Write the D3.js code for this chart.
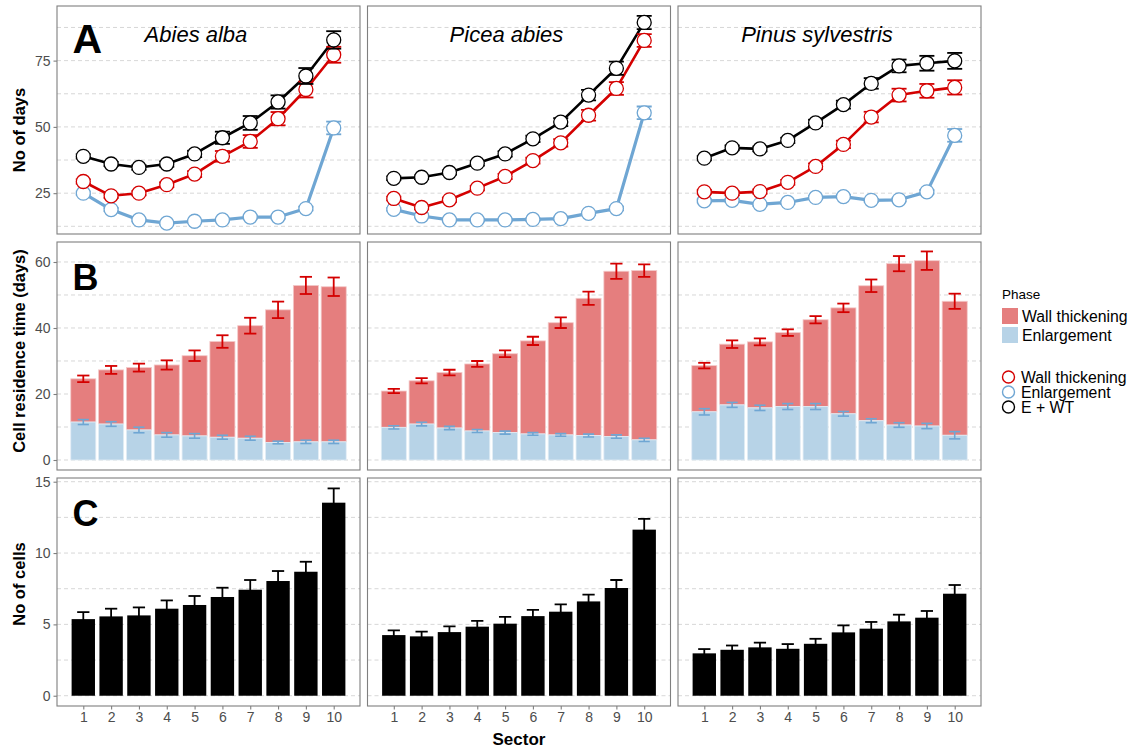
<!DOCTYPE html>
<html><head><meta charset="utf-8">
<script src="https://cdn.jsdelivr.net/npm/d3@7"></script>
<style>
html,body{margin:0;padding:0;background:#fff;}
text{font-family:"Liberation Sans",Arial,Helvetica,sans-serif;}
</style></head>
<body>
<svg id="chart" width="1136" height="751"></svg>
<script>
// ---------- data ----------
const sectors = [1,2,3,4,5,6,7,8,9,10];
const species = ["Abies alba","Picea abies","Pinus sylvestris"];
const panelLetters = ["A","B","C"];

// Panel A: number of days
const daysEWT = [
  [38.9,36.0,34.7,36.0,39.8,45.9,51.5,59.4,69.2,82.8],
  [30.6,31.0,32.8,36.3,39.8,45.5,51.8,62.0,72.1,89.4],
  [38.2,42.1,41.7,44.9,51.5,58.4,66.4,73.0,74.0,74.9]];
const daysEWTErr = [
  [0.8,0.8,0.9,1.0,1.2,2.3,2.6,2.5,3.0,3.3],
  [0.7,0.7,0.8,0.9,1.0,1.2,1.5,2.0,2.5,2.5],
  [0.8,0.9,0.9,1.0,1.2,1.5,2.0,2.4,2.8,3.0]];
const daysWT = [
  [29.4,24.0,25.0,28.2,32.2,38.9,44.5,53.1,64.1,77.2],
  [23.0,19.6,22.5,26.9,31.3,37.3,44.0,54.4,64.5,82.6],
  [25.5,25.0,25.6,29.1,35.1,43.4,53.7,62.0,63.6,64.9]];
const daysWTErr = [
  [0.8,0.8,0.8,0.9,1.1,2.0,2.4,2.5,3.0,3.0],
  [0.7,0.7,0.8,0.8,1.0,1.1,1.4,2.0,2.4,2.4],
  [0.7,0.8,0.8,0.9,1.1,1.4,2.0,2.4,2.6,2.7]];
const daysE = [
  [25.0,18.8,14.9,13.7,14.4,14.9,16.0,16.0,19.2,49.6],
  [18.9,16.4,14.9,14.9,14.9,15.1,15.4,17.4,19.2,55.3],
  [22.1,22.3,20.8,21.5,23.4,23.7,22.3,22.5,25.5,46.8]];
const daysEErr = [
  [0.6,0.6,0.5,0.5,0.5,0.5,0.6,0.6,0.7,2.4],
  [0.5,0.5,0.5,0.5,0.5,0.5,0.5,0.6,0.7,2.4],
  [0.6,0.6,0.6,0.6,0.6,0.6,0.6,0.6,0.7,2.4]];

// Panel B: cell residence time (days)
const resE = [
  [11.5,10.9,9.1,7.6,7.3,6.9,6.6,5.3,5.5,5.5],
  [9.9,10.9,9.7,8.8,8.3,7.9,7.6,7.4,7.1,6.1],
  [14.6,16.7,15.8,16.2,16.2,14.0,11.9,10.6,10.3,7.5]];
const resEErr = [
  [0.75,0.7,0.85,0.7,0.7,0.6,0.6,0.4,0.5,0.5],
  [0.5,0.55,0.5,0.45,0.45,0.4,0.4,0.45,0.5,0.5],
  [0.95,0.75,0.8,0.9,0.9,0.7,0.6,0.7,0.8,1.1]];
const resWT = [
  [13.1,16.4,18.9,21.2,24.3,29.0,34.1,40.2,47.4,47.0],
  [11.0,13.1,16.8,20.3,23.9,28.2,34.0,41.6,50.1,51.3],
  [14.0,18.4,20.0,22.4,26.3,32.1,40.9,48.9,50.1,40.6]];
const resWTErr = [
  [1.0,1.2,1.2,1.4,1.6,1.9,2.4,2.5,2.6,2.8],
  [0.65,0.8,0.85,0.9,1.0,1.25,1.6,2.0,2.3,1.9],
  [0.85,1.15,1.05,1.0,1.1,1.3,1.9,2.3,2.8,2.3]];

// Panel C: number of cells
const cells = [
  [5.37,5.56,5.63,6.10,6.36,6.92,7.43,8.04,8.69,13.53],
  [4.25,4.16,4.46,4.84,5.05,5.58,5.89,6.61,7.55,11.64],
  [2.97,3.22,3.39,3.29,3.64,4.44,4.70,5.21,5.47,7.15]];
const cellsErr = [
  [0.49,0.54,0.56,0.58,0.63,0.65,0.68,0.70,0.70,1.0],
  [0.33,0.33,0.40,0.40,0.47,0.44,0.51,0.47,0.56,0.75],
  [0.30,0.30,0.33,0.33,0.35,0.49,0.47,0.47,0.47,0.61]];

// ticks
const ticksA = [25,50,75], minorA = [12.5,37.5,62.5,87.5];
const ticksB = [0,20,40,60], minorB = [10,30,50];
const ticksC = [0,5,10,15], minorC = [2.5,7.5,12.5];

const phaseLabels = ["Wall thickening","Enlargement"];
const lineLabels = ["Wall thickening","Enlargement","E + WT"];
const yTitles = ["No of days","Cell residence time (days)","No of cells"];

// ---------- layout ----------
const colX = [57, 367.5, 678], panelW = 303;
const rowY = [6, 242, 478], panelH = 228;
const C_RED = "#D40000", C_BLUE = "#6FA6D3", C_BLACK = "#000000";
const F_RED = "#E57E7E", F_BLUE = "#B7D3E7";
const GRID = "#D3D3D3", BORDER = "#7F7F7F", TICKTXT = "#4D4D4D";

const svg = d3.select("#chart");

const yDomains = [[9.6,95.6],[-3.03,66.06],[-0.72,15.26]];
const majors = [ticksA,ticksB,ticksC], minors = [minorA,minorB,minorC];

function makeX(c){ return d3.scaleLinear().domain([0.055,10.945]).range([colX[c], colX[c]+panelW]); }
function makeY(r){ return d3.scaleLinear().domain(yDomains[r]).range([rowY[r]+panelH, rowY[r]]); }

function errorBars(g, x, y, vals, errs, color, halfW, sw){
  const eg = g.append("g");
  sectors.forEach((s,i)=>{
    const lo = y(vals[i]-errs[i]), hi = y(vals[i]+errs[i]);
    eg.append("line").attr("x1",x(s)).attr("x2",x(s)).attr("y1",lo).attr("y2",hi)
      .attr("stroke",color).attr("stroke-width",sw);
    [lo,hi].forEach(yy=>eg.append("line").attr("x1",x(s-halfW)).attr("x2",x(s+halfW))
      .attr("y1",yy).attr("y2",yy).attr("stroke",color).attr("stroke-width",sw));
  });
}

for(let r=0;r<3;r++){
  const y = makeY(r);
  for(let c=0;c<3;c++){
    const x = makeX(c);
    const g = svg.append("g");
    const clipId = `clip${r}${c}`;
    svg.append("clipPath").attr("id",clipId).append("rect")
      .attr("x",colX[c]).attr("y",rowY[r]).attr("width",panelW).attr("height",panelH);
    // grid
    const grid = g.append("g");
    majors[r].concat(minors[r]).forEach(v=>{
      grid.append("line").attr("x1",colX[c]).attr("x2",colX[c]+panelW)
        .attr("y1",y(v)).attr("y2",y(v)).attr("stroke",GRID).attr("stroke-width",0.9)
        .attr("stroke-dasharray","4,3");
    });
    const pg = g.append("g").attr("clip-path",`url(#${clipId})`);
    if(r===0){
      const line = d3.line().x((d,i)=>x(sectors[i])).y(d=>y(d));
      const series = [
        {v:daysE[c], e:daysEErr[c], col:C_BLUE, w:3.2},
        {v:daysWT[c], e:daysWTErr[c], col:C_RED, w:2.6},
        {v:daysEWT[c], e:daysEWTErr[c], col:C_BLACK, w:2.6}];
      series.forEach(s=>{
        pg.append("path").datum(s.v).attr("d",line).attr("fill","none")
          .attr("stroke",s.col).attr("stroke-width",s.w).attr("stroke-linejoin","round");
      });
      series.forEach(s=>{
        errorBars(pg, x, y, s.v, s.e, s.col, 0.27, 1.8);
        pg.append("g").selectAll("circle").data(s.v).join("circle")
          .attr("cx",(d,i)=>x(sectors[i])).attr("cy",d=>y(d)).attr("r",7)
          .attr("fill","#fff").attr("stroke",s.col).attr("stroke-width",1.3);
      });
    } else if(r===1){
      const bw = 0.9;
      sectors.forEach((s,i)=>{
        const tot = resE[c][i]+resWT[c][i];
        pg.append("rect").attr("x",x(s-bw/2)).attr("width",x(bw)-x(0))
          .attr("y",y(tot)).attr("height",y(resE[c][i])-y(tot))
          .attr("fill",F_RED).attr("stroke","#F3C9C9").attr("stroke-width",0.8);
        pg.append("rect").attr("x",x(s-bw/2)).attr("width",x(bw)-x(0))
          .attr("y",y(resE[c][i])).attr("height",y(0)-y(resE[c][i]))
          .attr("fill",F_BLUE).attr("stroke","#E2EDF5").attr("stroke-width",0.8);
      });
      const tots = resE[c].map((v,i)=>v+resWT[c][i]);
      errorBars(pg, x, y, tots, resWTErr[c], C_RED, 0.22, 1.8);
      errorBars(pg, x, y, resE[c], resEErr[c], C_BLUE, 0.2, 1.6);
    } else {
      const bw = 0.84;
      pg.append("g").selectAll("rect").data(cells[c]).join("rect")
        .attr("x",(d,i)=>x(sectors[i]-bw/2)).attr("width",x(bw)-x(0))
        .attr("y",d=>y(d)).attr("height",d=>y(0)-y(d)).attr("fill","#000");
      errorBars(pg, x, y, cells[c], cellsErr[c], "#000", 0.22, 1.8);
    }
    // border
    g.append("rect").attr("x",colX[c]).attr("y",rowY[r]).attr("width",panelW).attr("height",panelH)
      .attr("fill","none").attr("stroke",BORDER).attr("stroke-width",1.1);
    // y axis on first column
    if(c===0){
      const ax = d3.axisLeft(y).tickValues(majors[r]).tickSize(3.5).tickPadding(3).tickFormat(d3.format("d"));
      const ag = svg.append("g").attr("transform",`translate(${colX[0]},0)`).call(ax);
      ag.select(".domain").remove();
      ag.selectAll(".tick line").attr("stroke",BORDER).attr("stroke-width",1.1);
      ag.selectAll(".tick text").attr("fill",TICKTXT).style("font-size","14px")
        .style("font-family","Liberation Sans, Arial, sans-serif");
    }
    // x axis on last row
    if(r===2){
      const ax = d3.axisBottom(x).tickValues(sectors).tickSize(3.5).tickPadding(3).tickFormat(d3.format("d"));
      const ag = svg.append("g").attr("transform",`translate(0,${rowY[2]+panelH})`).call(ax);
      ag.select(".domain").remove();
      ag.selectAll(".tick line").attr("stroke",BORDER).attr("stroke-width",1.1);
      ag.selectAll(".tick text").attr("fill",TICKTXT).style("font-size","14px")
        .style("font-family","Liberation Sans, Arial, sans-serif");
    }
    // species titles
    if(r===0){
      svg.append("text").attr("x",x(5.05)).attr("y",rowY[0]+36)
        .attr("text-anchor","middle").style("font-size","22px").style("font-style","italic")
        .attr("fill","#000").text(species[c]);
    }
  }
  // panel letter
  svg.append("text").attr("x",colX[0]+15.5).attr("y",rowY[r]+(r===0?47:48))
    .style("font-size",(r===0?"41px":"36px")).style("font-weight","bold").attr("fill","#000")
    .text(panelLetters[r]);
}

// y titles
const yTitleCY = [130, 351, 584];
yTitles.forEach((t,i)=>{
  svg.append("text").attr("transform",`translate(25,${yTitleCY[i]}) rotate(-90)`)
    .attr("text-anchor","middle").style("font-size","16.5px").style("font-weight","bold")
    .attr("fill","#000").text(t);
});
// x title
svg.append("text").attr("x",colX[1]+panelW/2).attr("y",745).attr("text-anchor","middle")
  .style("font-size","17px").style("font-weight","bold").attr("fill","#000").text("Sector");

// legend
const lg = svg.append("g");
lg.append("text").attr("x",1002).attr("y",299).style("font-size","13.5px").attr("fill","#000").text("Phase");
[F_RED,F_BLUE].forEach((col,i)=>{
  lg.append("rect").attr("x",1002).attr("y",308+i*19).attr("width",16).attr("height",16).attr("fill",col);
  lg.append("text").attr("x",1022).attr("y",321.5+i*19.5).style("font-size","15.8px").attr("fill","#000").text(phaseLabels[i]);
});
[C_RED,C_BLUE,C_BLACK].forEach((col,i)=>{
  const cy = 377+i*15;
  lg.append("circle").attr("cx",1008.5).attr("cy",cy).attr("r",6).attr("fill","#fff")
    .attr("stroke",col).attr("stroke-width",1.4);
  lg.append("text").attr("x",1021).attr("y",cy+5.5).style("font-size","15.8px").attr("fill","#000").text(lineLabels[i]);
});
</script>
</body></html>
